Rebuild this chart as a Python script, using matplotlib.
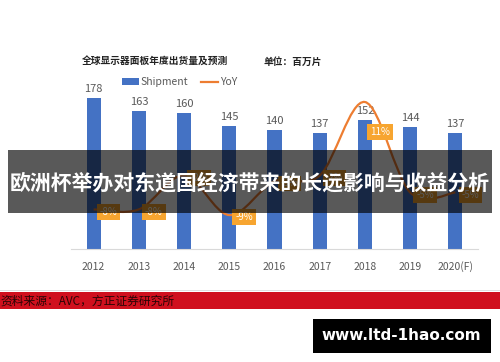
import numpy as np
import matplotlib.pyplot as plt
from matplotlib.path import Path
from matplotlib.patches import PathPatch, Rectangle

plt.rcParams['font.family'] = ['Noto Sans CJK SC', 'DejaVu Sans']

years = ['2012', '2013', '2014', '2015', '2016', '2017', '2018', '2019', '2020(F)']
shipment = [178, 163, 160, 145, 140, 137, 152, 144, 137]
yoy = [-8, -8, -2, -9, -3, -2, 11, -5, -5]
yoy_labels = ['-8%', '-8%', '-2%', '-9%', '-3%', '-2%', '11%', '-5%', '-5%']

title = '全球显示器面板年度出货量及预测'
unit = '单位：百万片'
banner = '欧洲杯举办对东道国经济带来的长远影响与收益分析'
source = '资料来源：AVC，方正证券研究所'
site = 'www.ltd-1hao.com'

W, H = 500, 362
fig = plt.figure(figsize=(W / 100, H / 100), dpi=100)

# main axes: x 71..478 px, y baseline at 249 px from top
left, right, top, base = 71, 478, 79.4, 249
ax = fig.add_axes([left / W, (H - base) / H, (right - left) / W, (base - top) / H])
ax.set_facecolor('none')
x = np.arange(len(years))
ax.bar(x, shipment, width=0.31, color='#4472C4', label='Shipment', zorder=2)
for xi, v in zip(x, shipment):
    ax.text(xi, v + 5, str(v), ha='center', va='bottom', fontsize=8, color='#595959')
ax.set_xlim(-0.5, len(years) - 0.5)
ax.set_ylim(0, 200)
ax.set_xticks(x)
ax.set_xticklabels(years, fontsize=7.5, color='#595959')
ax.tick_params(axis='x', length=0, pad=9)
ax.set_yticks([])
for s in ['top', 'left', 'right']:
    ax.spines[s].set_visible(False)
ax.spines['bottom'].set_color('#D9D9D9')

# YoY on secondary axis, smoothed like the office chart
ax2 = ax.twinx()
ax2.set_ylim(-15, 15)
ax2.set_yticks([])
for s in ax2.spines.values():
    s.set_visible(False)
pts = np.column_stack([x, yoy]).astype(float)
verts = [pts[0]]
codes = [Path.MOVETO]
for i in range(len(pts) - 1):
    p0 = pts[max(i - 1, 0)]
    p1, p2 = pts[i], pts[i + 1]
    p3 = pts[min(i + 2, len(pts) - 1)]
    verts += [p1 + (p2 - p0) / 6, p2 - (p3 - p1) / 6, p2]
    codes += [Path.CURVE4] * 3
ax2.add_patch(PathPatch(Path(verts, codes), facecolor='none', edgecolor='#ED7D31',
                        lw=1.6, zorder=3))
ax2.plot([], [], color='#ED7D31', lw=1.6, label='YoY')
for xi, v, lab in zip(x, yoy, yoy_labels):
    dy = -5.3 if v > 5 else -0.4
    ax2.text(xi + 0.33, v + dy, lab, ha='center', va='center', fontsize=7,
             color='white', zorder=4,
             bbox=dict(boxstyle='square,pad=0.3', fc='#F7A530', ec='none'))

h1, l1 = ax.get_legend_handles_labels()
h2, l2 = ax2.get_legend_handles_labels()
fig.legend(h1 + h2, l1 + l2, loc='center left', bbox_to_anchor=(122 / W, 1 - 82 / H),
           ncol=2, frameon=False, fontsize=7.5, labelcolor='#595959',
           handlelength=1.6, handleheight=0.6, handletextpad=0.2, columnspacing=1.2,
           borderaxespad=0, borderpad=0)

fig.text(82 / W, 1 - 62 / H, title, fontsize=7, fontweight='bold', va='center', color='#222222')
fig.text(263 / W, 1 - 62 / H, unit, fontsize=7, fontweight='bold', va='center', color='#222222')

# overlay banner
fig.patches.append(Rectangle((8 / W, 1 - 213 / H), 484 / W, 63 / H, transform=fig.transFigure,
                             facecolor='black', alpha=0.65, zorder=10))
fig.text(0.5, 1 - 183 / H, banner, ha='center', va='center', fontsize=15,
         fontweight='bold', color='white', zorder=11)

# red source bar
fig.patches.append(Rectangle((0, 1 - 291 / H), 1, 1 / H, transform=fig.transFigure,
                             facecolor='#E0E0E0', zorder=1))
fig.patches.append(Rectangle((0, 1 - 309 / H), 1, 17 / H, transform=fig.transFigure,
                             facecolor='#D0101E', zorder=1))
fig.text(0, 1 - 301 / H, source, ha='left', va='center', fontsize=8.5, color='#2a0505', zorder=2)

# site watermark
fig.patches.append(Rectangle((313 / W, 1 - 353 / H), 178 / W, 34 / H, transform=fig.transFigure,
                             facecolor='black', zorder=10))
fig.text(401 / W, 1 - 336 / H, site, ha='center', va='center', fontsize=11,
         fontweight='bold', color='white', family='DejaVu Sans', zorder=11)

fig.savefig('out.png', dpi=100)
